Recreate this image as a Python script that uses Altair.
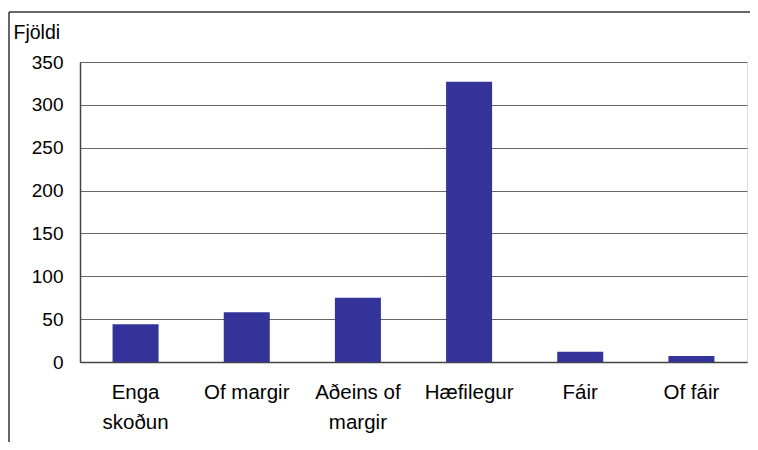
import altair as alt
import pandas as pd

categories = ["Enga\nskoðun", "Of margir", "Aðeins of\nmargir", "Hæfilegur", "Fáir", "Of fáir"]
values = [44, 58, 75, 327, 12, 7]
y_ticks = [0, 50, 100, 150, 200, 250, 300, 350]

df = pd.DataFrame({"flokkur": categories, "fjoldi": values})

FONT = "Liberation Sans"

bars = alt.Chart(df).mark_bar(color="#333399").encode(
    x=alt.X(
        "flokkur:N",
        sort=None,
        scale=alt.Scale(paddingInner=0.586, paddingOuter=0.293),
        axis=alt.Axis(
            title=None,
            labelAngle=0,
            labelExpr="split(datum.label, '\\n')",
            labelFontSize=20.5,
            labelFont=FONT,
            labelColor="#000000",
            labelBaseline="top",
            labelPadding=20,
            labelLineHeight=30,
            ticks=False,
            domainColor="#444444",
            domainWidth=1.5,
            grid=False,
        ),
    ),
    y=alt.Y(
        "fjoldi:Q",
        scale=alt.Scale(domain=[0, 350], nice=False),
        axis=alt.Axis(
            title="Fjöldi",
            titleAngle=0,
            titleX=-67,
            titleY=-24,
            titleAlign="left",
            titleBaseline="alphabetic",
            titleFont=FONT,
            titleFontSize=19.5,
            titleFontWeight="normal",
            titleColor="#000000",
            values=y_ticks,
            labelFontSize=19,
            labelFont=FONT,
            labelColor="#000000",
            labelPadding=17,
            ticks=False,
            domainColor="#444444",
            domainWidth=1.5,
            gridColor="#666666",
            gridWidth=1,
        ),
    ),
)

frame = alt.Chart(alt.Data(values=[{}]))
left_border = frame.mark_rule(color="#333333", strokeWidth=1.5).encode(
    x=alt.value(-71), y=alt.value(-50), y2=alt.value(420)
)
top_border = frame.mark_rule(color="#333333", strokeWidth=1.5).encode(
    x=alt.value(-71), x2=alt.value(700), y=alt.value(-50)
)

chart = alt.layer(bars, left_border, top_border).properties(
    width=667,
    height=300,
    autosize=alt.AutoSizeParams(type="none"),
    padding={"left": 72, "top": 54, "right": 3, "bottom": 80},
).configure_view(
    stroke="#444444",
    strokeWidth=1.5,
).configure(background="white")

chart.save("out.html", embed_options={"renderer": "svg", "actions": False})
